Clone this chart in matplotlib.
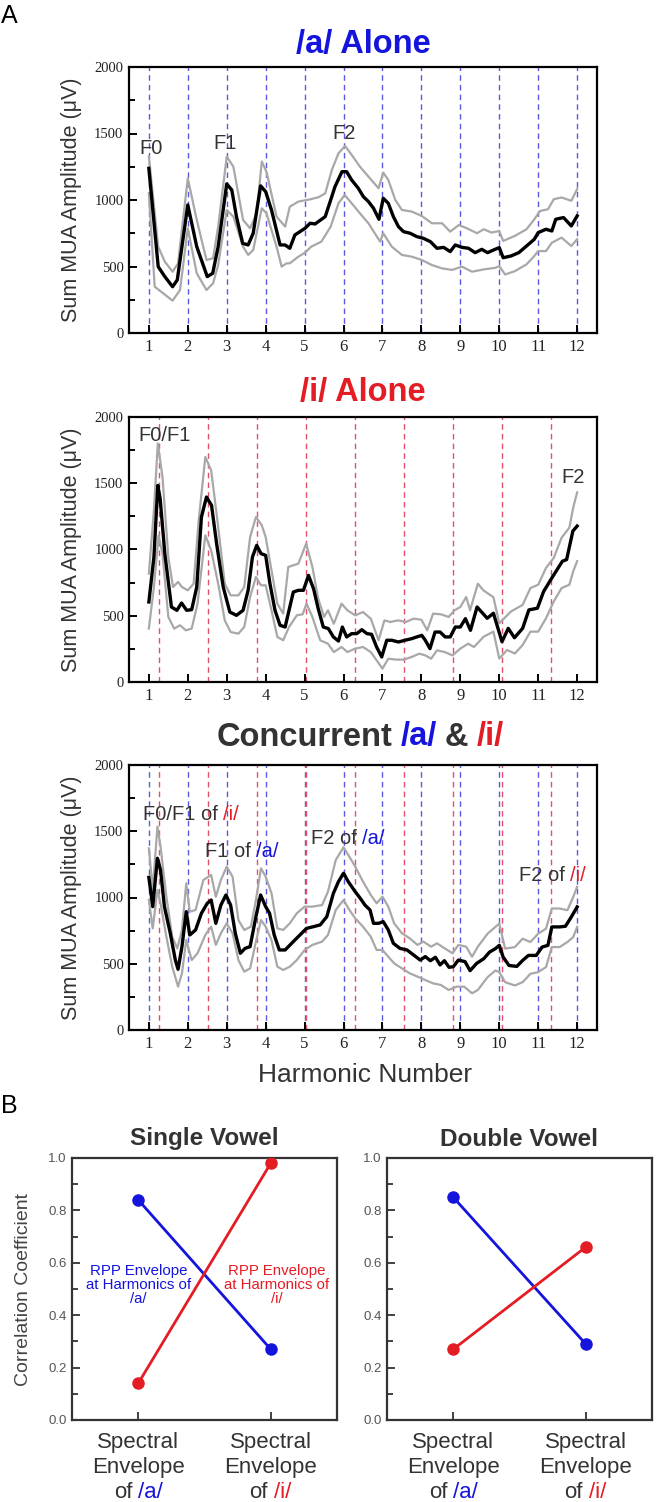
import matplotlib
matplotlib.use("Agg")
import matplotlib.pyplot as plt
from matplotlib.ticker import MultipleLocator

plt.rcParams["font.family"] = ["Liberation Sans", "DejaVu Sans"]

# ---- panel A data: /a/ alone ----
a_x = [1.0, 1.24, 1.41, 1.61, 1.73, 2.0, 2.23, 2.35, 2.5, 2.64, 2.78, 3.0, 3.13, 3.25, 3.41, 3.55, 3.68, 3.87, 4.0, 4.15,
       4.37, 4.5, 4.62, 4.75, 5.01, 5.14, 5.27, 5.53, 5.67, 5.78, 5.96, 6.08, 6.21, 6.38, 6.51, 6.64, 6.77, 6.91, 7.02,
       7.15, 7.28, 7.41, 7.54, 7.71, 7.88, 8.05, 8.23, 8.4, 8.57, 8.74, 8.87, 9.04, 9.21, 9.38, 9.55, 9.7, 9.85, 10.0,
       10.1, 10.3, 10.5, 10.7, 10.9, 11.0, 11.2, 11.35, 11.45, 11.65, 11.85, 12.0]
a_mean = [1238, 499, 424, 348, 399, 963, 649, 549, 424, 449, 649, 1121, 1075, 875, 674, 662, 750, 1106, 1063, 925,
          662, 662, 637, 737, 787, 825, 820, 875, 1000, 1100, 1213, 1213, 1150, 1088, 1025, 988, 938, 855, 1013,
          975, 875, 800, 762, 750, 725, 712, 687, 637, 644, 612, 662, 644, 637, 604, 629, 604, 624, 642,
          566, 579, 604, 654, 705, 755, 780, 767, 855, 868, 805, 880]
a_hi_x = [1.0, 1.24, 1.41, 1.61, 1.75, 2.0, 2.23, 2.48, 2.65, 2.78, 3.0, 3.17, 3.42, 3.6, 3.77, 3.9, 4.02, 4.28, 4.5,
          4.62, 4.84, 5.14, 5.35, 5.53, 5.7, 5.87, 6.04, 6.21, 6.42, 6.64, 6.9, 7.02, 7.15, 7.33, 7.5, 7.75, 8.01,
          8.27, 8.53, 8.74, 8.96, 9.17, 9.43, 9.6, 9.8, 10.0, 10.1, 10.4, 10.7, 10.9, 11.05, 11.25, 11.4, 11.6,
          11.85, 12.0]
a_hi = [1326, 649, 536, 461, 524, 1163, 850, 549, 562, 800, 1326, 1251, 850, 787, 900, 1289, 1213, 875, 800,
        950, 988, 1005, 1020, 1050, 1226, 1351, 1406, 1339, 1251, 1176, 1088, 1206, 1151, 1000, 925, 913, 880,
        825, 825, 762, 812, 787, 750, 780, 755, 767, 692, 730, 780, 855, 918, 930, 1006, 1019, 994, 1082]
a_lo_x = [1.0, 1.15, 1.37, 1.61, 1.8, 2.0, 2.23, 2.48, 2.65, 2.78, 3.0, 3.17, 3.42, 3.55, 3.68, 3.9, 4.02, 4.28, 4.41,
          4.54, 4.62, 4.84, 5.01, 5.17, 5.43, 5.67, 5.87, 6.03, 6.21, 6.42, 6.64, 6.94, 7.02, 7.24, 7.5, 7.75, 8.01,
          8.27, 8.53, 8.79, 9.04, 9.3, 9.6, 9.9, 10.0, 10.15, 10.4, 10.7, 10.9, 11.0, 11.2, 11.35, 11.6, 11.85, 12.0]
a_lo = [1050, 348, 298, 243, 323, 787, 449, 323, 374, 511, 925, 875, 649, 587, 624, 938, 900, 649, 499,
        524, 524, 574, 604, 649, 687, 800, 975, 1038, 975, 900, 825, 687, 750, 649, 587, 574, 549,
        511, 486, 474, 499, 461, 478, 490, 503, 440, 465, 516, 579, 616, 616, 679, 717, 654, 705]

# ---- /i/ alone ----
i_x = [1.0, 1.13, 1.23, 1.29, 1.41, 1.58, 1.72, 1.84, 1.97, 2.1, 2.23, 2.35, 2.48, 2.61, 2.74, 2.91, 3.08, 3.25, 3.42,
       3.55, 3.66, 3.77, 3.88, 4.0, 4.11, 4.24, 4.37, 4.5, 4.58, 4.71, 4.84, 4.97, 5.1, 5.23, 5.35, 5.48, 5.61, 5.74,
       5.87, 5.97, 6.08, 6.21, 6.34, 6.47, 6.6, 6.72, 6.85, 6.98, 7.11, 7.24, 7.41, 7.58, 7.75, 7.88, 8.01, 8.1,
       8.22, 8.35, 8.48, 8.61, 8.74, 8.87, 9.0, 9.13, 9.26, 9.43, 9.69, 9.85, 10.07, 10.23, 10.39, 10.6, 10.76,
       10.98, 11.14, 11.35, 11.62, 11.73, 11.89, 12.0]
i_mean = [604, 943, 1484, 1384, 969, 566, 541, 596, 541, 546, 717, 1245, 1396, 1333, 1044, 717, 528, 503, 541,
          692, 943, 1031, 969, 956, 742, 541, 428, 415, 516, 679, 692, 692, 805, 704, 553, 415, 403, 340,
          309, 415, 340, 365, 365, 395, 365, 360, 264, 189, 315, 315, 302, 315, 327, 340, 352, 315,
          252, 377, 377, 340, 340, 415, 415, 478, 390, 566, 481, 519, 304, 405, 334, 405, 544,
          557, 684, 785, 911, 924, 1139, 1177]
i_hi_x = [1.0, 1.13, 1.23, 1.35, 1.5, 1.62, 1.75, 1.85, 2.0, 2.15, 2.28, 2.45, 2.6, 2.75, 2.95, 3.1, 3.3, 3.45, 3.6,
          3.75, 3.9, 4.0, 4.15, 4.3, 4.45, 4.58, 4.71, 4.84, 5.04, 5.2, 5.35, 5.5, 5.6, 5.75, 5.95, 6.1, 6.3, 6.5,
          6.7, 6.9, 7.05, 7.2, 7.4, 7.6, 7.8, 8.0, 8.15, 8.3, 8.5, 8.7, 8.85, 9.0, 9.15, 9.25, 9.45, 9.6, 9.85,
          10.0, 10.3, 10.6, 10.8, 11.0, 11.2, 11.4, 11.6, 11.8, 11.9, 12.0]
i_hi = [818, 1296, 1800, 1547, 943, 717, 755, 717, 692, 742, 1220, 1698, 1598, 1245, 742, 654, 654, 717, 1094,
        1245, 1183, 1094, 843, 591, 516, 868, 881, 893, 1044, 868, 629, 491, 541, 440, 591, 541, 503, 528,
        478, 315, 465, 453, 465, 453, 478, 470, 390, 516, 511, 491, 541, 566, 642, 541, 742, 690, 640,
        443, 532, 582, 709, 734, 861, 937, 1089, 1165, 1317, 1431]
i_lo_x = [1.0, 1.13, 1.25, 1.35, 1.5, 1.65, 1.8, 1.95, 2.1, 2.25, 2.45, 2.6, 2.78, 2.95, 3.1, 3.3, 3.45, 3.6, 3.75,
          3.88, 4.0, 4.15, 4.3, 4.45, 4.6, 4.8, 4.95, 5.05, 5.2, 5.4, 5.6, 5.75, 5.95, 6.1, 6.3, 6.5, 6.7, 6.85,
          7.0, 7.15, 7.35, 7.55, 7.75, 7.95, 8.1, 8.25, 8.4, 8.6, 8.8, 9.0, 9.2, 9.35, 9.6, 9.85, 10.0, 10.2,
          10.4, 10.6, 10.8, 11.0, 11.2, 11.4, 11.6, 11.8, 11.9, 12.0]
i_lo = [403, 717, 1107, 969, 491, 403, 428, 390, 403, 591, 1107, 994, 742, 465, 377, 365, 415, 642, 793,
        730, 730, 541, 340, 315, 415, 503, 511, 591, 491, 315, 289, 226, 264, 226, 252, 264, 226, 164,
        101, 176, 169, 169, 189, 214, 201, 176, 239, 226, 201, 252, 289, 264, 342, 380, 177, 241,
        215, 279, 380, 380, 481, 608, 709, 734, 836, 912]

# ---- concurrent /a/ & /i/ ----
c_x = [1.0, 1.1, 1.22, 1.3, 1.4, 1.55, 1.68, 1.75, 1.85, 1.96, 2.05, 2.2, 2.35, 2.5, 2.6, 2.72, 2.85, 2.98, 3.1,
       3.22, 3.35, 3.47, 3.6, 3.75, 3.87, 4.0, 4.1, 4.22, 4.35, 4.5, 4.71, 4.88, 5.05, 5.23, 5.4, 5.57, 5.74, 5.87,
       6.0, 6.12, 6.3, 6.43, 6.55, 6.68, 6.77, 6.9, 7.02, 7.15, 7.28, 7.45, 7.63, 7.8, 7.97, 8.1, 8.23, 8.36,
       8.48, 8.59, 8.71, 8.82, 8.95, 9.12, 9.25, 9.42, 9.6, 9.75, 9.9, 10.0, 10.1, 10.25, 10.45, 10.6, 10.75,
       10.95, 11.1, 11.25, 11.35, 11.55, 11.7, 11.85, 12.0]
c_mean = [1152, 931, 1296, 1208, 931, 730, 528, 458, 629, 893, 717, 755, 881, 956, 981, 805, 943, 1019, 943,
          730, 579, 616, 629, 855, 1019, 931, 881, 717, 604, 604, 667, 717, 767, 780, 793, 855, 1032, 1120,
          1183, 1120, 1044, 994, 943, 906, 805, 805, 818, 755, 654, 616, 604, 566, 528, 554, 523, 549,
          491, 523, 473, 478, 528, 516, 448, 503, 538, 588, 614, 639, 550, 487, 480, 525, 563,
          563, 626, 639, 778, 778, 783, 853, 929]
c_hi_x = [1.0, 1.1, 1.22, 1.3, 1.45, 1.6, 1.73, 1.85, 1.96, 2.05, 2.2, 2.4, 2.6, 2.72, 2.85, 3.0, 3.15, 3.3, 3.45,
          3.62, 3.75, 3.88, 4.0, 4.15, 4.3, 4.45, 4.62, 4.8, 5.0, 5.2, 5.45, 5.6, 5.8, 6.0, 6.15, 6.3, 6.5, 6.7,
          6.85, 7.0, 7.15, 7.3, 7.5, 7.7, 7.9, 8.05, 8.25, 8.4, 8.6, 8.8, 8.95, 9.15, 9.3, 9.45, 9.7, 9.9, 10.0,
          10.15, 10.4, 10.6, 10.8, 11.0, 11.2, 11.35, 11.55, 11.75, 11.9, 12.0]
c_hi = [1371, 1057, 1535, 1384, 1006, 704, 616, 755, 1107, 893, 906, 1132, 1170, 1006, 1132, 1233, 1157, 830, 755,
        780, 981, 1220, 1157, 1032, 767, 755, 805, 881, 931, 931, 943, 1044, 1283, 1379, 1308, 1233, 1120, 1019,
        956, 1006, 931, 805, 730, 692, 642, 667, 629, 654, 616, 579, 642, 629, 553, 629, 727, 778, 803,
        614, 626, 689, 664, 727, 765, 917, 917, 904, 1005, 1081]
c_lo_x = [1.0, 1.1, 1.22, 1.3, 1.45, 1.6, 1.75, 1.85, 1.96, 2.1, 2.25, 2.45, 2.6, 2.72, 2.85, 3.0, 3.15, 3.3, 3.45,
          3.6, 3.75, 3.88, 4.0, 4.15, 4.3, 4.45, 4.62, 4.8, 5.0, 5.2, 5.45, 5.6, 5.8, 6.0, 6.15, 6.3, 6.5, 6.7,
          6.85, 7.0, 7.15, 7.3, 7.5, 7.7, 7.9, 8.1, 8.3, 8.5, 8.7, 8.9, 9.1, 9.3, 9.45, 9.7, 9.9, 10.0, 10.15,
          10.4, 10.6, 10.8, 11.0, 11.2, 11.35, 11.55, 11.75, 11.9, 12.0]
c_lo = [981, 767, 1057, 956, 704, 478, 327, 428, 679, 528, 579, 717, 780, 642, 730, 805, 730, 528, 440,
        465, 667, 830, 780, 679, 478, 453, 478, 528, 604, 642, 667, 717, 906, 981, 906, 843, 780, 704,
        604, 604, 553, 503, 465, 428, 403, 377, 352, 340, 302, 327, 327, 277, 302, 399, 449, 437, 361,
        336, 361, 424, 437, 475, 626, 626, 664, 702, 778]

harmonics_a = [1, 2, 3, 4, 5, 6, 7, 8, 9, 10, 11, 12]
harmonics_i = [1.26, 2.52, 3.78, 5.04, 6.30, 7.56, 8.82, 10.08, 11.34]

# ---- panel B data ----
b_categories = [0, 1]
single_blue = [0.84, 0.27]
single_red = [0.14, 0.98]
double_blue = [0.85, 0.29]
double_red = [0.27, 0.66]

W, H = 656, 1502
BLUE = "#1414dc"
RED = "#e41c24"
DARK = "#333333"
GRAY = "#a8a8a8"
VBLUE = "#5a5ae0"
VRED = "#e2506a"
TITLE_SIZE = 23.5

fig = plt.figure(figsize=(W / 100, H / 100), dpi=100)


def px_axes(left, top, right, bottom):
    return fig.add_axes([left / W, 1 - bottom / H, (right - left) / W, (bottom - top) / H])


def chain(ax, x, y, parts, transform, size, weight="normal", ha="left", gap_em=0.278):
    # draw differently coloured pieces side by side
    gap = gap_em * size
    t = ax.text(x, y, parts[0][0], color=parts[0][1], transform=transform, ha=ha, va="center",
                fontsize=size, fontweight=weight, clip_on=False)
    for s, c in parts[1:]:
        t = ax.annotate(s, xy=(1, 0.5), xycoords=t, xytext=(gap, 0), textcoords="offset points",
                        ha="left", va="center", color=c, fontsize=size, fontweight=weight,
                        annotation_clip=False)
    return t


def style_harmonic_axes(ax):
    ax.set_xlim(0.49, 12.51)
    ax.set_ylim(0, 2000)
    ax.xaxis.set_major_locator(MultipleLocator(1))
    ax.yaxis.set_major_locator(MultipleLocator(500))
    ax.yaxis.set_minor_locator(MultipleLocator(250))
    ax.tick_params(axis="both", which="both", direction="in", color="black", width=1.4)
    ax.tick_params(axis="x", which="major", length=6, pad=4, labelsize=12)
    ax.tick_params(axis="y", which="major", length=6, pad=4, labelsize=10.5)
    ax.tick_params(axis="y", which="minor", length=4)
    for lab in ax.get_xticklabels() + ax.get_yticklabels():
        lab.set_fontfamily("Liberation Serif")
        lab.set_color("#222222")
    for sp in ax.spines.values():
        sp.set_linewidth(1.6)
    ax.set_yticks([0, 500, 1000, 1500, 2000])


def draw_curves(ax, xm, ym, xh, yh, xl, yl):
    ax.plot(xh, yh, color=GRAY, lw=1.6, zorder=3)
    ax.plot(xl, yl, color=GRAY, lw=1.6, zorder=3)
    ax.plot(xm, ym, color="black", lw=2.4, zorder=4)


def vlines(ax, xs, color):
    for h in xs:
        ax.axvline(h, color=color, lw=1.0, dashes=(4, 3), zorder=1)


def ylabel(ax_top, ax_bottom):
    yc = (ax_top + ax_bottom) / 2
    fig.text(71 / W, 1 - yc / H, "Sum MUA Amplitude (\u03bcV)", rotation=90, ha="center", va="center",
             fontsize=15.5, color=DARK)


fig.text(1 / W, 1 - 16 / H, "A", fontsize=18, ha="left", va="center", color="black")
fig.text(1 / W, 1 - 1106 / H, "B", fontsize=18, ha="left", va="center", color="black")

# top: /a/ alone
ax1 = px_axes(129, 67, 597, 333)
style_harmonic_axes(ax1)
vlines(ax1, harmonics_a, VBLUE)
draw_curves(ax1, a_x, a_mean, a_hi_x, a_hi, a_lo_x, a_lo)
fig.text(363 / W, 1 - 45 / H, "/a/ Alone", color=BLUE, fontsize=TITLE_SIZE, fontweight="bold",
         ha="center", va="center")
ylabel(67, 333)
for label, hx, hy in [("F0", 1.06, 1390), ("F1", 2.95, 1426), ("F2", 6.02, 1502)]:
    ax1.text(hx, hy, label, ha="center", va="center", fontsize=14.5, color=DARK, zorder=5)

# middle: /i/ alone
ax2 = px_axes(129, 417, 597, 682)
style_harmonic_axes(ax2)
vlines(ax2, harmonics_i, VRED)
draw_curves(ax2, i_x, i_mean, i_hi_x, i_hi, i_lo_x, i_lo)
fig.text(363 / W, 1 - 392 / H, "/i/ Alone", color=RED, fontsize=TITLE_SIZE, fontweight="bold",
         ha="center", va="center")
ylabel(417, 682)
ax2.text(0.73, 1862, "F0/F1", ha="left", va="center", fontsize=14.5, color=DARK, zorder=5)
ax2.text(11.9, 1545, "F2", ha="center", va="center", fontsize=14.5, color=DARK, zorder=5)

# bottom: concurrent
ax3 = px_axes(129, 765, 597, 1030)
style_harmonic_axes(ax3)
vlines(ax3, harmonics_a, VBLUE)
vlines(ax3, harmonics_i, VRED)
draw_curves(ax3, c_x, c_mean, c_hi_x, c_hi, c_lo_x, c_lo)
chain(ax3, 217 / W, 1 - 737 / H, [("Concurrent", DARK), ("/a/", BLUE), ("&", DARK), ("/i/", RED)],
      fig.transFigure, TITLE_SIZE, weight="bold", gap_em=0.24)
ylabel(765, 1030)
chain(ax3, 0.85, 1623, [("F0/F1 of", DARK), ("/i/", RED)], ax3.transData, 14.5)
chain(ax3, 2.44, 1346, [("F1 of", DARK), ("/a/", BLUE)], ax3.transData, 14.5)
chain(ax3, 5.16, 1447, [("F2 of", DARK), ("/a/", BLUE)], ax3.transData, 14.5)
chain(ax3, 10.5, 1169, [("F2 of", DARK), ("/i/", RED)], ax3.transData, 14.5)
fig.text(365 / W, 1 - 1075 / H, "Harmonic Number", ha="center", va="center", fontsize=19, color=DARK)

# panel B
fig.text(23 / W, 1 - 1289 / H, "Correlation Coefficient", rotation=90, ha="center", va="center",
         fontsize=14, color="#444444")


def corr_panel(left, right, title, blue_vals, red_vals):
    ax = px_axes(left, 1158, right, 1420)
    ax.set_xlim(-0.5, 1.5)
    ax.set_ylim(0, 1)
    ax.plot(b_categories, blue_vals, color=BLUE, lw=2.0, marker="o", ms=8, zorder=3)
    ax.plot(b_categories, red_vals, color=RED, lw=2.0, marker="o", ms=8, zorder=3)
    ax.set_xticks(b_categories)
    ax.set_xticklabels([])
    ax.yaxis.set_minor_locator(MultipleLocator(0.1))
    ax.set_yticks([0, 0.2, 0.4, 0.6, 0.8, 1.0])
    ax.set_yticklabels(["0.0", "0.2", "0.4", "0.6", "0.8", "1.0"])
    ax.tick_params(axis="both", which="both", direction="in", color="#333333", width=1.3)
    ax.tick_params(axis="both", which="major", length=6, pad=4, labelsize=9.5, labelcolor="#555555")
    ax.tick_params(axis="y", which="minor", length=4)
    for sp in ax.spines.values():
        sp.set_linewidth(1.6)
        sp.set_color("#333333")
    fig.text((left + right) / 2 / W, 1 - 1139 / H, title, ha="center", va="center", fontsize=17.5,
             fontweight="bold", color=DARK)
    tr = ax.get_xaxis_transform()
    for cat, vowel, color, off_of, off_v in [(0, "/a/", BLUE, -4.4, 0.0), (1, "/i/", RED, -2.2, 2.2)]:
        ax.text(cat, -0.085, "Spectral", transform=tr, ha="center", va="center", fontsize=16, color=DARK)
        ax.text(cat, -0.18, "Envelope", transform=tr, ha="center", va="center", fontsize=16, color=DARK)
        ax.annotate("of", xy=(cat, -0.275), xycoords=tr, xytext=(off_of, 0), textcoords="offset points",
                    ha="right", va="center", fontsize=16, color=DARK, annotation_clip=False)
        ax.annotate(vowel, xy=(cat, -0.275), xycoords=tr, xytext=(off_v, 0), textcoords="offset points",
                    ha="left", va="center", fontsize=16, color=color, annotation_clip=False)
    return ax


axb1 = corr_panel(72, 337, "Single Vowel", single_blue, single_red)
axb2 = corr_panel(387, 652, "Double Vowel", double_blue, double_red)
axb1.text(0.0, 0.515, "RPP Envelope\nat Harmonics of\n/a/", ha="center", va="center", fontsize=10.8,
          color=BLUE, linespacing=1.0, zorder=5)
axb1.text(1.045, 0.515, "RPP Envelope\nat Harmonics of\n/i/", ha="center", va="center", fontsize=10.8,
          color=RED, linespacing=1.0, zorder=5)

fig.savefig("out.png", dpi=100)
